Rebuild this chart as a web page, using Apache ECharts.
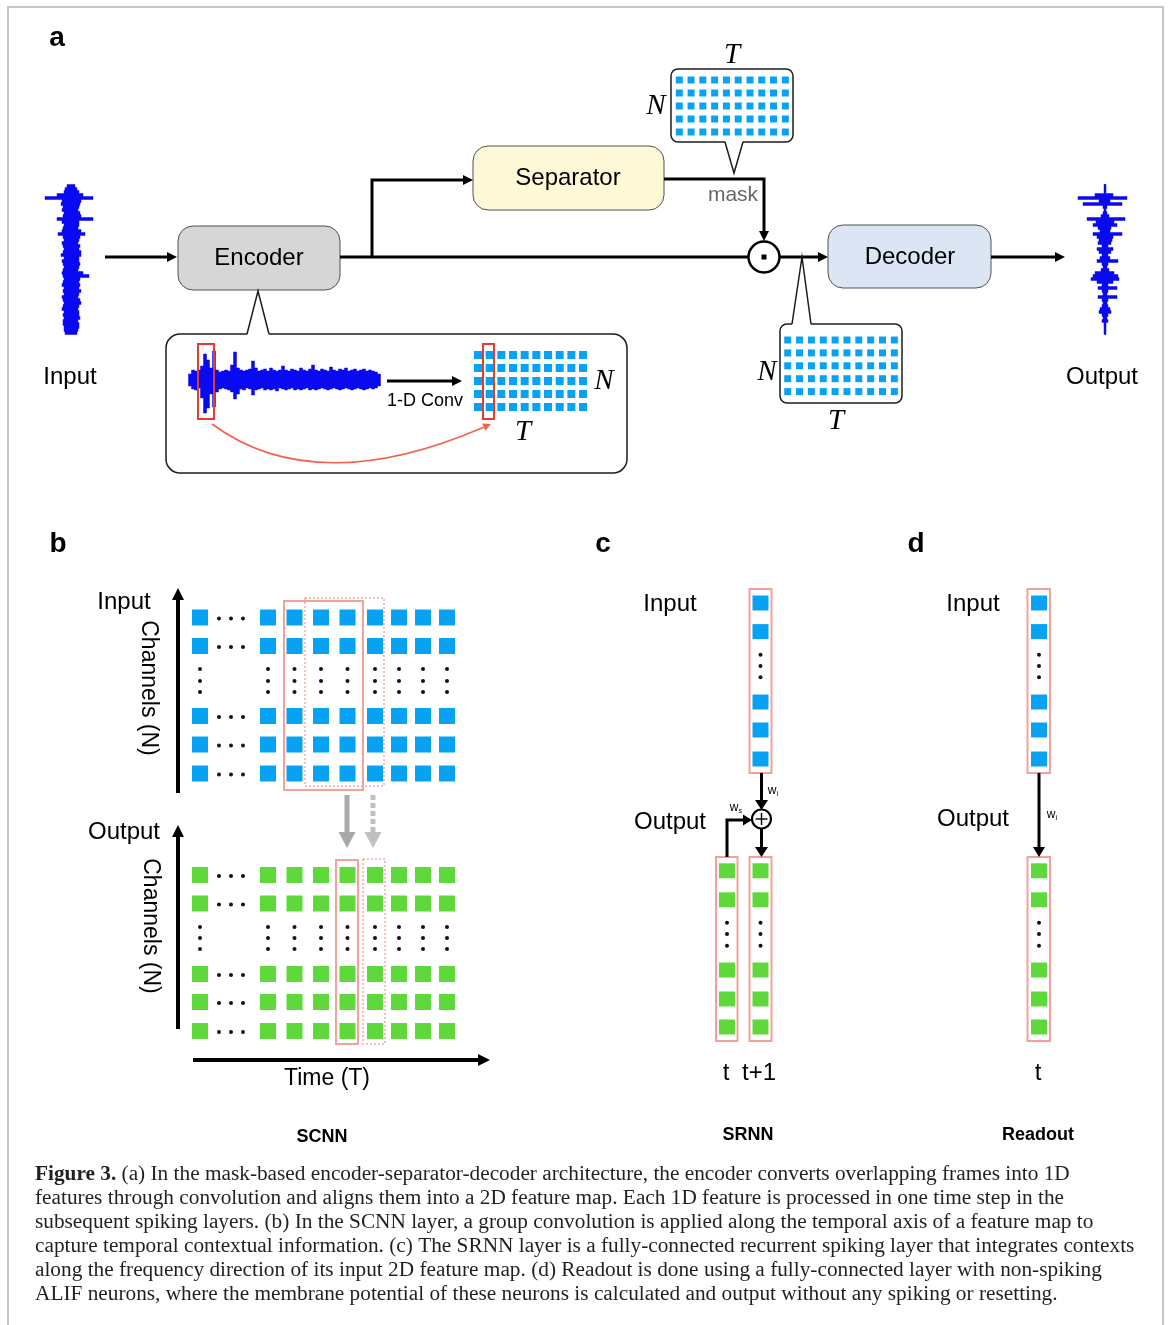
<!DOCTYPE html>
<html>
<head>
<meta charset="utf-8">
<title>Encoder-separator-decoder with spiking layers</title>
<script src="https://cdn.jsdelivr.net/npm/echarts@6/dist/echarts.min.js"></script>
<style>
  html, body { margin: 0; padding: 0; background: #ffffff; }
  #main { width: 1170px; height: 1325px; }
</style>
</head>
<body>
<div id="main"></div>
<script>
// ---------------- content ----------------
const panelLetters = ['a', 'b', 'c', 'd'];
const blockLabels = ['Encoder', 'Separator', 'Decoder'];
const layerTitles = ['SCNN', 'SRNN', 'Readout'];
const mapRows = 5;          // channels (N) drawn in the small feature maps of panel a
const mapCols = 10;         // frames (T) drawn in the small feature maps of panel a
const channelCells = 5;     // neurons drawn per column in panels b-d (plus one ellipsis slot)

// Envelope of the input waveform, top to bottom: [left, right] extent
const inputEnvelope = [
  [4,4],[6,6],[7,8],[14,12],[26,22],[9,10],[10,9],[8,8],[9,7],[7,9],
  [8,10],[14,22],[9,8],[7,8],[8,7],[9,10],[13,14],[8,9],[7,8],[9,7],
  [8,9],[7,8],[8,10],[10,10],[7,8],[9,8],[8,9],[7,8],[8,7],[9,12],
  [8,18],[7,9],[8,8],[9,9],[7,8],[8,10],[7,8],[9,7],[8,9],[7,10],
  [8,8],[9,7],[7,8],[8,8],[7,9],[8,7],[8,8],[7,8],[7,7],[6,6]
];
// Envelope of the separated output waveform, top to bottom: [left, right] extent
const outputEnvelope = [
  [1,1],[1,1],[1,1],[10,8],[27,22],[6,5],[22,17],[2,2],[1,1],[2,2],
  [4,4],[18,20],[9,9],[12,12],[7,6],[5,5],[12,17],[8,8],[6,7],[7,6],
  [3,3],[8,8],[6,6],[3,3],[5,5],[8,13],[3,3],[2,2],[4,4],[10,9],
  [12,13],[14,14],[8,8],[3,3],[7,12],[3,3],[2,2],[7,12],[3,3],[2,2],
  [3,3],[5,5],[6,6],[3,3],[2,2],[3,3],[1,1],[1,1],[1,1],[1,1]
];
// Envelope of the waveform framed by the encoder, left to right: [up, down] extent
const frameEnvelope = [
  [6,6],[10,9],[9,10],[10,8],[14,18],[26,33],[20,28],[12,14],[29,27],[10,12],
  [8,9],[9,8],[10,9],[9,10],[15,12],[28,19],[12,14],[10,9],[9,10],[10,8],
  [11,9],[19,15],[12,10],[9,9],[10,8],[11,10],[9,9],[12,10],[10,9],[9,11],
  [10,8],[14,9],[10,10],[9,9],[11,8],[10,10],[9,9],[12,10],[10,9],[9,8],
  [11,10],[15,9],[10,10],[9,9],[11,8],[10,9],[9,10],[13,9],[10,8],[9,9],
  [11,10],[10,9],[12,8],[9,9],[10,10],[11,9],[9,8],[10,9],[11,10],[9,9],
  [10,8],[9,9],[8,8],[6,6]
];
const captionLead = 'Figure 3.';
const captionLines = [
  ' (a) In the mask-based encoder-separator-decoder architecture, the encoder converts overlapping frames into 1D',
  'features through convolution and aligns them into a 2D feature map. Each 1D feature is processed in one time step in the',
  'subsequent spiking layers. (b) In the SCNN layer, a group convolution is applied along the temporal axis of a feature map to',
  'capture temporal contextual information. (c) The SRNN layer is a fully-connected recurrent spiking layer that integrates contexts',
  'along the frequency direction of its input 2D feature map. (d) Readout is done using a fully-connected layer with non-spiking',
  'ALIF neurons, where the membrane potential of these neurons is calculated and output without any spiking or resetting.'
];

// ---------------- layout (diagram units = px) ----------------
const SANS = '"Liberation Sans", Arial, Helvetica, sans-serif';
const SERIF = '"Liberation Serif", "Times New Roman", serif';
const BLUE = '#08a2f4';
const GREEN = '#5ed83b';
const SALMON = '#f4a198';
const RED = '#e63c2c';
const WAVE = '#0a0af0';

const maps = {
  mask:    { x0: 679.3, dx: 11.78, y0: 80,  dy: 13,   size: 7 },
  masked:  { x0: 787.7, dx: 11.85, y0: 340, dy: 12.9, size: 7 },
  encoded: { x0: 478,   dx: 11.67, y0: 355, dy: 13,   size: 8 }
};
const scnnColX = [200, 268, 294.5, 321, 347.5, 375, 399, 423, 447];
const scnnInRowY = [617.5, 646, 716, 744.5, 773.5];
const scnnInDotY = [669, 681, 692];
const scnnOutRowY = [875, 903.5, 974, 1002, 1031];
const scnnOutDotY = [927, 938, 949];
const colInRowY = [603, 631.6, 702, 730, 759];
const colInDotY = [654.7, 666, 677.3];
const colOutRowY = [870.8, 899.8, 970, 999, 1027];
const colOutDotY = [922.7, 934, 945.7];
const colInX = [760.5, 1039];
const colOutX = [727, 760.5, 1039];

// ---------------- builders ----------------
function mapCells(m) {
  const out = [];
  for (let j = 0; j < mapRows; j++)
    for (let i = 0; i < mapCols; i++) out.push([m.x0 + i * m.dx, m.y0 + j * m.dy]);
  return out;
}
function gridCells(xs, ys) {
  const out = [];
  xs.forEach(x => ys.slice(0, channelCells).forEach(y => out.push([x, y])));
  return out;
}
function ellipsisDots() {
  const out = [];
  // vertical ellipses in every column
  scnnColX.forEach(x => { scnnInDotY.forEach(y => out.push([x, y])); scnnOutDotY.forEach(y => out.push([x, y])); });
  colInX.forEach(x => colInDotY.forEach(y => out.push([x, y])));
  colOutX.forEach(x => colOutDotY.forEach(y => out.push([x, y])));
  // horizontal ellipses after the first time step of panel b
  [219, 231, 243].forEach(x => {
    scnnInRowY.forEach(y => out.push([x, y + 1]));
    scnnOutRowY.forEach(y => out.push([x, y + 1]));
  });
  return out;
}

const boxes = [
  { x: 178, y: 226, w: 162, h: 64, r: 15, fill: '#d6d6d6', stroke: '#505050', lw: 1 },
  { x: 473, y: 146, w: 191, h: 64, r: 15, fill: '#fdf9d6', stroke: '#505050', lw: 1 },
  { x: 828, y: 225, w: 163, h: 63, r: 15, fill: '#dbe5f3', stroke: '#505050', lw: 1 }
];
const callouts = [
  { x: 671, y: 69,  w: 122, h: 73,  r: 7,  base: [725, 743], baseY: 142, tip: [734, 173] },
  { x: 780, y: 324, w: 122, h: 79,  r: 7,  base: [792, 811], baseY: 324, tip: [802, 257] },
  { x: 166, y: 334, w: 461, h: 139, r: 14, base: [247, 269], baseY: 334, tip: [258, 291] }
];
const frames = [
  // panel a highlights
  { x: 198, y: 344, w: 16, h: 75, stroke: RED, lw: 2 },
  { x: 483, y: 344, w: 11, h: 75, stroke: RED, lw: 2 },
  // panel b kernels
  { x: 284, y: 601, w: 79, h: 189, stroke: SALMON, lw: 2 },
  { x: 305, y: 598, w: 79, h: 188, stroke: '#f6aaa1', lw: 1.5, dash: [2, 2] },
  { x: 336, y: 860, w: 22, h: 184, stroke: SALMON, lw: 2 },
  { x: 363, y: 859, w: 22, h: 185, stroke: '#f6aaa1', lw: 1.5, dash: [2, 2] },
  // panel c columns
  { x: 749.5, y: 589, w: 22, h: 184, stroke: SALMON, lw: 2 },
  { x: 716, y: 857, w: 21.5, h: 184, stroke: SALMON, lw: 2 },
  { x: 749.5, y: 857, w: 22, h: 184, stroke: SALMON, lw: 2 },
  // panel d columns
  { x: 1027.5, y: 589, w: 22.5, h: 184, stroke: SALMON, lw: 2 },
  { x: 1027.5, y: 857, w: 22.5, h: 184, stroke: SALMON, lw: 2 }
];
const connectors = [
  { pts: [[105, 257], [177, 257]], lw: 3, head: [10, 5] },
  { pts: [[340, 257], [748, 257]], lw: 3 },
  { pts: [[372, 257], [372, 180], [473, 180]], lw: 3, head: [10, 5] },
  { pts: [[664, 179], [764, 179], [764, 241]], lw: 3, head: [10, 5] },
  { pts: [[780, 257], [828, 257]], lw: 3, head: [10, 5] },
  { pts: [[991, 257], [1065, 257]], lw: 3, head: [10, 5] },
  { pts: [[387, 381], [462, 381]], lw: 3, head: [10, 5] },
  { pts: [[178, 793], [178, 588]], lw: 4, head: [12, 6] },
  { pts: [[178, 1029], [178, 825]], lw: 4, head: [12, 6] },
  { pts: [[193, 1060], [490, 1060]], lw: 4, head: [12, 6] },
  { pts: [[347, 795], [347, 848]], lw: 5, head: [16, 8.5], color: '#a9a9a9' },
  { pts: [[373, 795], [373, 848]], lw: 5, head: [16, 8.5], color: '#c0c0c0', dash: [5, 3] },
  { pts: [[761.5, 773], [761.5, 810]], lw: 3, head: [10, 6.5] },
  { pts: [[727, 857], [727, 820], [752, 820]], lw: 3, head: [9, 5.5] },
  { pts: [[761.5, 829], [761.5, 857]], lw: 3, head: [10, 6.5] },
  { pts: [[1039, 773], [1039, 857]], lw: 3, head: [10, 6] }
];

const labels = [
  { t: panelLetters[0], x: 57, y: 38, size: 28, weight: 'bold' },
  { t: panelLetters[1], x: 58, y: 544, size: 28, weight: 'bold' },
  { t: panelLetters[2], x: 603, y: 544, size: 28, weight: 'bold' },
  { t: panelLetters[3], x: 916, y: 544, size: 28, weight: 'bold' },
  { t: 'Input', x: 70, y: 377, size: 24 },
  { t: 'Output', x: 1102, y: 377, size: 24 },
  { t: blockLabels[0], x: 259, y: 258, size: 24 },
  { t: blockLabels[1], x: 568, y: 178, size: 24 },
  { t: blockLabels[2], x: 910, y: 257, size: 24 },
  { t: 'mask', x: 733, y: 195, size: 21, color: '#666666' },
  { t: '1-D Conv', x: 425, y: 401, size: 18 },
  { t: 'T', x: 732, y: 55, size: 29, font: SERIF, style: 'italic' },
  { t: 'N', x: 656, y: 106, size: 29, font: SERIF, style: 'italic' },
  { t: 'N', x: 767, y: 372, size: 29, font: SERIF, style: 'italic' },
  { t: 'T', x: 836, y: 421, size: 29, font: SERIF, style: 'italic' },
  { t: 'N', x: 604, y: 381, size: 29, font: SERIF, style: 'italic' },
  { t: 'T', x: 523, y: 432, size: 29, font: SERIF, style: 'italic' },
  { t: 'Input', x: 124, y: 602, size: 24 },
  { t: 'Output', x: 124, y: 832, size: 24 },
  { t: 'Channels (N)', x: 148, y: 688, size: 23, rotate: -Math.PI / 2 },
  { t: 'Channels (N)', x: 150, y: 926, size: 23, rotate: -Math.PI / 2 },
  { t: 'Time (T)', x: 327, y: 1079, size: 23 },
  { t: layerTitles[0], x: 322, y: 1137, size: 18, weight: 'bold' },
  { t: 'Input', x: 670, y: 604, size: 24 },
  { t: 'Output', x: 670, y: 822, size: 24 },
  { t: 't', x: 726, y: 1073, size: 24 },
  { t: 't+1', x: 759, y: 1073, size: 24 },
  { t: layerTitles[1], x: 748, y: 1135, size: 18, weight: 'bold' },
  { t: 'Input', x: 973, y: 604, size: 24 },
  { t: 'Output', x: 973, y: 819, size: 24 },
  { t: 't', x: 1038, y: 1073, size: 24 },
  { t: layerTitles[2], x: 1038, y: 1135, size: 18, weight: 'bold' },
  { t: 'w{s|i}', x: 773, y: 791, size: 12 },
  { t: 'w{s|s}', x: 736, y: 808, size: 12 },
  { t: 'w{s|i}', x: 1052, y: 815, size: 12 }
];

// ---------------- render helpers ----------------
function single(renderer, z) {
  return {
    type: 'custom', coordinateSystem: 'cartesian2d', data: [[0, 0]], z: z,
    silent: true, clip: false, animation: false,
    renderItem: (params, api) => ({ type: 'group', children: renderer(api) })
  };
}
function rectFrom(api, b) {
  const p1 = api.coord([b.x, b.y]);
  const p2 = api.coord([b.x + b.w, b.y + b.h]);
  return { x: p1[0], y: p1[1], width: p2[0] - p1[0], height: p2[1] - p1[1], r: b.r || 0 };
}
function headPoints(tip, from, len, half) {
  const dx = tip[0] - from[0], dy = tip[1] - from[1];
  const d = Math.hypot(dx, dy) || 1;
  const ux = dx / d, uy = dy / d;
  const bx = tip[0] - ux * len, by = tip[1] - uy * len;
  return [[tip[0], tip[1]], [bx - uy * half, by + ux * half], [bx + uy * half, by - ux * half]];
}

function drawFrames(api) {
  const out = [];
  // figure border
  out.push({ type: 'rect', shape: rectFrom(api, { x: 8, y: 7, w: 1155, h: 1330 }),
    style: { fill: null, stroke: '#c6c6c6', lineWidth: 2 } });
  boxes.forEach(b => out.push({ type: 'rect', shape: rectFrom(api, b),
    style: { fill: b.fill, stroke: b.stroke, lineWidth: b.lw } }));
  callouts.forEach(c => {
    out.push({ type: 'rect', shape: rectFrom(api, c),
      style: { fill: '#ffffff', stroke: '#1d1d1d', lineWidth: 1.5 } });
    const dir = c.tip[1] < c.baseY ? 1 : -1;  // inward direction of the box
    const a = api.coord([c.base[0], c.baseY]), b = api.coord([c.base[1], c.baseY]);
    const tip = api.coord(c.tip);
    const a2 = api.coord([c.base[0] + 1, c.baseY + 2.5 * dir]);
    const b2 = api.coord([c.base[1] - 1, c.baseY + 2.5 * dir]);
    out.push({ type: 'polygon', shape: { points: [a2, a, tip, b, b2] },
      style: { fill: '#ffffff', stroke: null } });
    out.push({ type: 'polyline', shape: { points: [a, tip, b] },
      style: { fill: null, stroke: '#1d1d1d', lineWidth: 1.5, lineJoin: 'miter' } });
  });
  // element-wise product node
  const c1 = api.coord([764, 257]);
  out.push({ type: 'circle', shape: { cx: c1[0], cy: c1[1], r: 15.5 },
    style: { fill: '#ffffff', stroke: '#000000', lineWidth: 2.5 } });
  out.push({ type: 'rect', shape: { x: c1[0] - 2.5, y: c1[1] - 2.5, width: 5, height: 5 },
    style: { fill: '#000000' } });
  // summation node
  const c2 = api.coord([761.5, 819]);
  out.push({ type: 'circle', shape: { cx: c2[0], cy: c2[1], r: 9.5 },
    style: { fill: '#ffffff', stroke: '#000000', lineWidth: 2.2 } });
  out.push({ type: 'line', shape: { x1: c2[0] - 6, y1: c2[1], x2: c2[0] + 6, y2: c2[1] },
    style: { stroke: '#000000', lineWidth: 1.4 } });
  out.push({ type: 'line', shape: { x1: c2[0], y1: c2[1] - 6, x2: c2[0], y2: c2[1] + 6 },
    style: { stroke: '#000000', lineWidth: 1.4 } });
  return out;
}

// Waveforms are drawn as stepped envelopes: every sample fills one slice of width `step`
function verticalWave(api, env, cx, y0, step, color) {
  const right = [], left = [];
  env.forEach((e, i) => {
    const ya = y0 + i * step - step / 2, yb = ya + step;
    right.push(api.coord([cx + e[1], ya]), api.coord([cx + e[1], yb]));
    left.push(api.coord([cx - e[0], ya]), api.coord([cx - e[0], yb]));
  });
  return { type: 'polygon', shape: { points: right.concat(left.reverse()) },
    style: { fill: color, stroke: color, lineWidth: 0.5 } };
}
function horizontalWave(api, env, x0, cy, step, color) {
  const top = [], bottom = [];
  env.forEach((e, i) => {
    const xa = x0 + i * step - step / 2, xb = xa + step;
    top.push(api.coord([xa, cy - e[0]]), api.coord([xb, cy - e[0]]));
    bottom.push(api.coord([xa, cy + e[1]]), api.coord([xb, cy + e[1]]));
  });
  return { type: 'polygon', shape: { points: top.concat(bottom.reverse()) },
    style: { fill: color, stroke: color, lineWidth: 0.5 } };
}
function drawWaves(api) {
  const out = [
    verticalWave(api, inputEnvelope, 71, 186, 3, WAVE),
    verticalWave(api, outputEnvelope, 1105, 186, 3, WAVE),
    horizontalWave(api, frameEnvelope, 190, 380, 3, WAVE)
  ];
  // thin centre trace of the output waveform
  const t1 = api.coord([1105, 184]), t2 = api.coord([1105, 333]);
  out.push({ type: 'line', shape: { x1: t1[0], y1: t1[1], x2: t2[0], y2: t2[1] },
    style: { stroke: WAVE, lineWidth: 1.5 } });
  return out;
}

function drawHighlights(api) {
  const out = [];
  frames.forEach(f => out.push({ type: 'rect', shape: rectFrom(api, f),
    style: { fill: null, stroke: f.stroke, lineWidth: f.lw, lineDash: f.dash || null } }));
  // frame-to-feature correspondence curve
  const p0 = api.coord([212, 424]), cp = api.coord([315, 500]), p1 = api.coord([491, 424]);
  const hp = headPoints(p1, cp, 8, 4);
  const shaftEnd = [(hp[1][0] + hp[2][0]) / 2, (hp[1][1] + hp[2][1]) / 2];
  out.push({ type: 'bezierCurve',
    shape: { x1: p0[0], y1: p0[1], cpx1: cp[0], cpy1: cp[1], x2: shaftEnd[0], y2: shaftEnd[1] },
    style: { fill: null, stroke: '#f0644c', lineWidth: 1.6 } });
  out.push({ type: 'polygon', shape: { points: hp }, style: { fill: '#f0644c' } });
  return out;
}

function drawConnectors(api) {
  const out = [];
  connectors.forEach(c => {
    const color = c.color || '#000000';
    const pts = c.pts.map(p => api.coord(p));
    if (c.head) {
      const tip = pts[pts.length - 1], from = pts[pts.length - 2];
      const hp = headPoints(tip, from, c.head[0], c.head[1]);
      const base = [(hp[1][0] + hp[2][0]) / 2, (hp[1][1] + hp[2][1]) / 2];
      const shaft = pts.slice(0, -1).concat([[base[0] + (tip[0] - base[0]) * 0.2, base[1] + (tip[1] - base[1]) * 0.2]]);
      out.push({ type: 'polyline', shape: { points: shaft },
        style: { fill: null, stroke: color, lineWidth: c.lw, lineDash: c.dash || null, lineJoin: 'miter' } });
      out.push({ type: 'polygon', shape: { points: hp }, style: { fill: color } });
    } else {
      out.push({ type: 'polyline', shape: { points: pts },
        style: { fill: null, stroke: color, lineWidth: c.lw, lineJoin: 'miter' } });
    }
  });
  return out;
}

function drawLabels(api) {
  const out = labels.map(l => {
    const p = api.coord([l.x, l.y]);
    return {
      type: 'text', x: p[0], y: p[1], rotation: l.rotate || 0,
      style: {
        text: l.t, x: 0, y: 0, fill: l.color || '#000000',
        fontFamily: l.font || SANS, fontSize: l.size,
        fontWeight: l.weight || 'normal', fontStyle: l.style || 'normal',
        align: 'center', verticalAlign: 'middle',
        rich: { s: { fontFamily: SANS, fontSize: l.size * 0.6, verticalAlign: 'bottom', padding: [6, 0, 0, 0] } }
      }
    };
  });
  captionLines.forEach((line, i) => {
    const p = api.coord([35, 1174 + i * 24]);
    out.push({
      type: 'text', x: p[0], y: p[1],
      style: {
        text: (i === 0 ? '{b|' + captionLead + '}' : '') + line, x: 0, y: 0,
        fill: '#231f20', fontFamily: SERIF, fontSize: 21.3,
        align: 'left', verticalAlign: 'middle',
        rich: { b: { fontFamily: SERIF, fontSize: 21.3, fontWeight: 'bold', fill: '#231f20' } }
      }
    });
  });
  return out;
}

function cellSeries(name, data, color, size, symbol) {
  return {
    name: name, type: 'scatter', data: data, symbol: symbol || 'rect', symbolSize: size,
    itemStyle: { color: color, opacity: 1 }, z: 3, silent: true, animation: false
  };
}

const chart = echarts.init(document.getElementById('main'), null, { renderer: 'canvas' });
chart.setOption({
  animation: false,
  backgroundColor: '#ffffff',
  grid: { left: 0, right: 0, top: 0, bottom: 0 },
  xAxis: { type: 'value', min: 0, max: 1170, show: false },
  yAxis: { type: 'value', min: 0, max: 1325, inverse: true, show: false },
  series: [
    single(drawFrames, 1),
    single(drawWaves, 2),
    cellSeries('mask', mapCells(maps.mask), BLUE, [7, 7]),
    cellSeries('masked', mapCells(maps.masked), BLUE, [7, 7]),
    cellSeries('encoded', mapCells(maps.encoded), BLUE, [8, 8]),
    cellSeries('scnn input', gridCells(scnnColX, scnnInRowY), BLUE, [16, 16]),
    cellSeries('scnn output', gridCells(scnnColX, scnnOutRowY), GREEN, [16, 16]),
    cellSeries('column input', gridCells(colInX, colInRowY), BLUE, [16, 15]),
    cellSeries('column output', gridCells(colOutX, colOutRowY), GREEN, [16, 15]),
    cellSeries('ellipsis', ellipsisDots(), '#111111', 4, 'circle'),
    single(drawHighlights, 4),
    single(drawConnectors, 5),
    single(drawLabels, 6)
  ]
});
</script>
</body>
</html>
